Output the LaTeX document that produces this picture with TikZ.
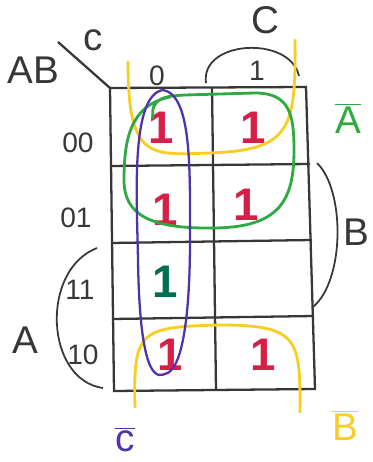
\documentclass[tikz,border=0pt]{standalone}
\usepackage{fontspec}
\setmainfont{Liberation Sans}
\usetikzlibrary{positioning}

\definecolor{pen}{RGB}{55,55,55}
\definecolor{onered}{RGB}{215,30,70}
\definecolor{oneteal}{RGB}{0,110,80}
\definecolor{grpgreen}{RGB}{45,170,65}
\definecolor{grpyellow}{RGB}{250,205,35}
\definecolor{grppurple}{RGB}{80,50,170}

\tikzset{
	grid/.style={draw=pen, line width=1.3pt},
	lbl/.style={text=pen, font=\fontsize{16}{16}\selectfont, inner sep=0pt},
	biglbl/.style={text=pen, font=\fontsize{22}{22}\selectfont, inner sep=0pt},
	one/.style={text=onered, font=\bfseries\fontsize{26}{26}\selectfont, inner sep=0pt},
	group/.style={line width=1.6pt, line cap=round}
}

\begin{document}
\begin{tikzpicture}[x=0.02cm, y=-0.02cm]
		\useasboundingbox (0,0) rectangle (372,462);

		% map corners
		\coordinate (tl) at (110,88);
		\coordinate (tr) at (306,87);
		\coordinate (br) at (315,389);
		\coordinate (bl) at (114,391);
		\coordinate (corner) at (58,42);

		% grid
		\draw[grid] (tl) -- (tr) -- (br) -- (bl) -- cycle;
		\draw[grid] (212,88) -- (216,390);
		\draw[grid] (110,166) -- (310,164);
		\draw[grid] (111,243) -- (312,240);
		\draw[grid] (112,319) -- (314,316);
		\draw[grid] (corner) -- (tl);

		% headings
		\node[biglbl] (ab) at (33,70) {AB};
		\node[biglbl] (cvar) at (93,40) {c};
		\node[lbl] (col0) at (157,76) {0};
		\node[lbl] (col1) at (257,71) {1};
		\node[lbl] (row00) at (78,143) {00};
		\node[lbl] (row01) at (76,218) {01};
		\node[lbl] (row11) at (80,290) {11};
		\node[lbl] (row10) at (83,355) {10};

		% cells
		\node[one] (m0) at (161,128) {1};
		\node[one] (m1) at (253,128) {1};
		\node[one] (m2) at (165,210) {1};
		\node[one] (m3) at (246,205) {1};
		\node[one, text=oneteal] (m6) at (165,282) {1};
		\node[one] (m4) at (170,355) {1};
		\node[one] (m5) at (263,355) {1};

		% variable brackets
		\coordinate (cl) at (206,83);
		\coordinate (cr) at (299,76);
		\draw[pen, line width=1pt] (cl) .. controls (200,40) and (290,35) .. (cr);
		\node[biglbl] (clbl) at (265,20) {C};

		\coordinate (bt) at (317,163);
		\coordinate (bb) at (313,307);
		\draw[pen, line width=1pt] (bt) .. controls (345,190) and (345,280) .. (bb);
		\node[biglbl] (blbl) at (356,232) {B};

		\coordinate (at) at (97,248);
		\coordinate (ab2) at (103,388);
		\draw[pen, line width=1pt] (at) .. controls (40,270) and (45,380) .. (ab2);
		\node[biglbl] (albl) at (25,340) {A};

		% groups
		\draw[group, grpyellow] (128,62) .. controls (128,160) and (150,155) .. (210,153)
			.. controls (290,150) and (296,130) .. (295,40);
		\draw[group, grpyellow] (135,407) .. controls (133,330) and (140,327) .. (220,325)
			.. controls (300,325) and (300,340) .. (300,412);
		\draw[group, grpgreen] (153,118) .. controls (150,98) and (165,96) .. (185,95)
			-- (255,93) .. controls (290,93) and (294,115) .. (294,150)
			.. controls (294,200) and (280,227) .. (215,228)
			.. controls (150,229) and (124,215) .. (124,180)
			.. controls (124,140) and (130,105) .. (170,97);
		\draw[group, grppurple, line width=1.3pt] (163,90) .. controls (130,95) and (137,200) .. (138,260)
			.. controls (140,390) and (160,375) .. (165,374)
			.. controls (185,370) and (190,300) .. (190,240)
			.. controls (190,170) and (192,95) .. (163,90);

		\node[biglbl, text=grpgreen] (nota) at (348,118) {$\overline{\mbox{A}}$};
		\node[biglbl, text=grpyellow] (notb) at (345,425) {$\overline{\mbox{B}}$};
		\node[biglbl, text=grppurple] (notc) at (125,440) {$\overline{\mbox{c}}$};
	\end{tikzpicture}
\end{document}
